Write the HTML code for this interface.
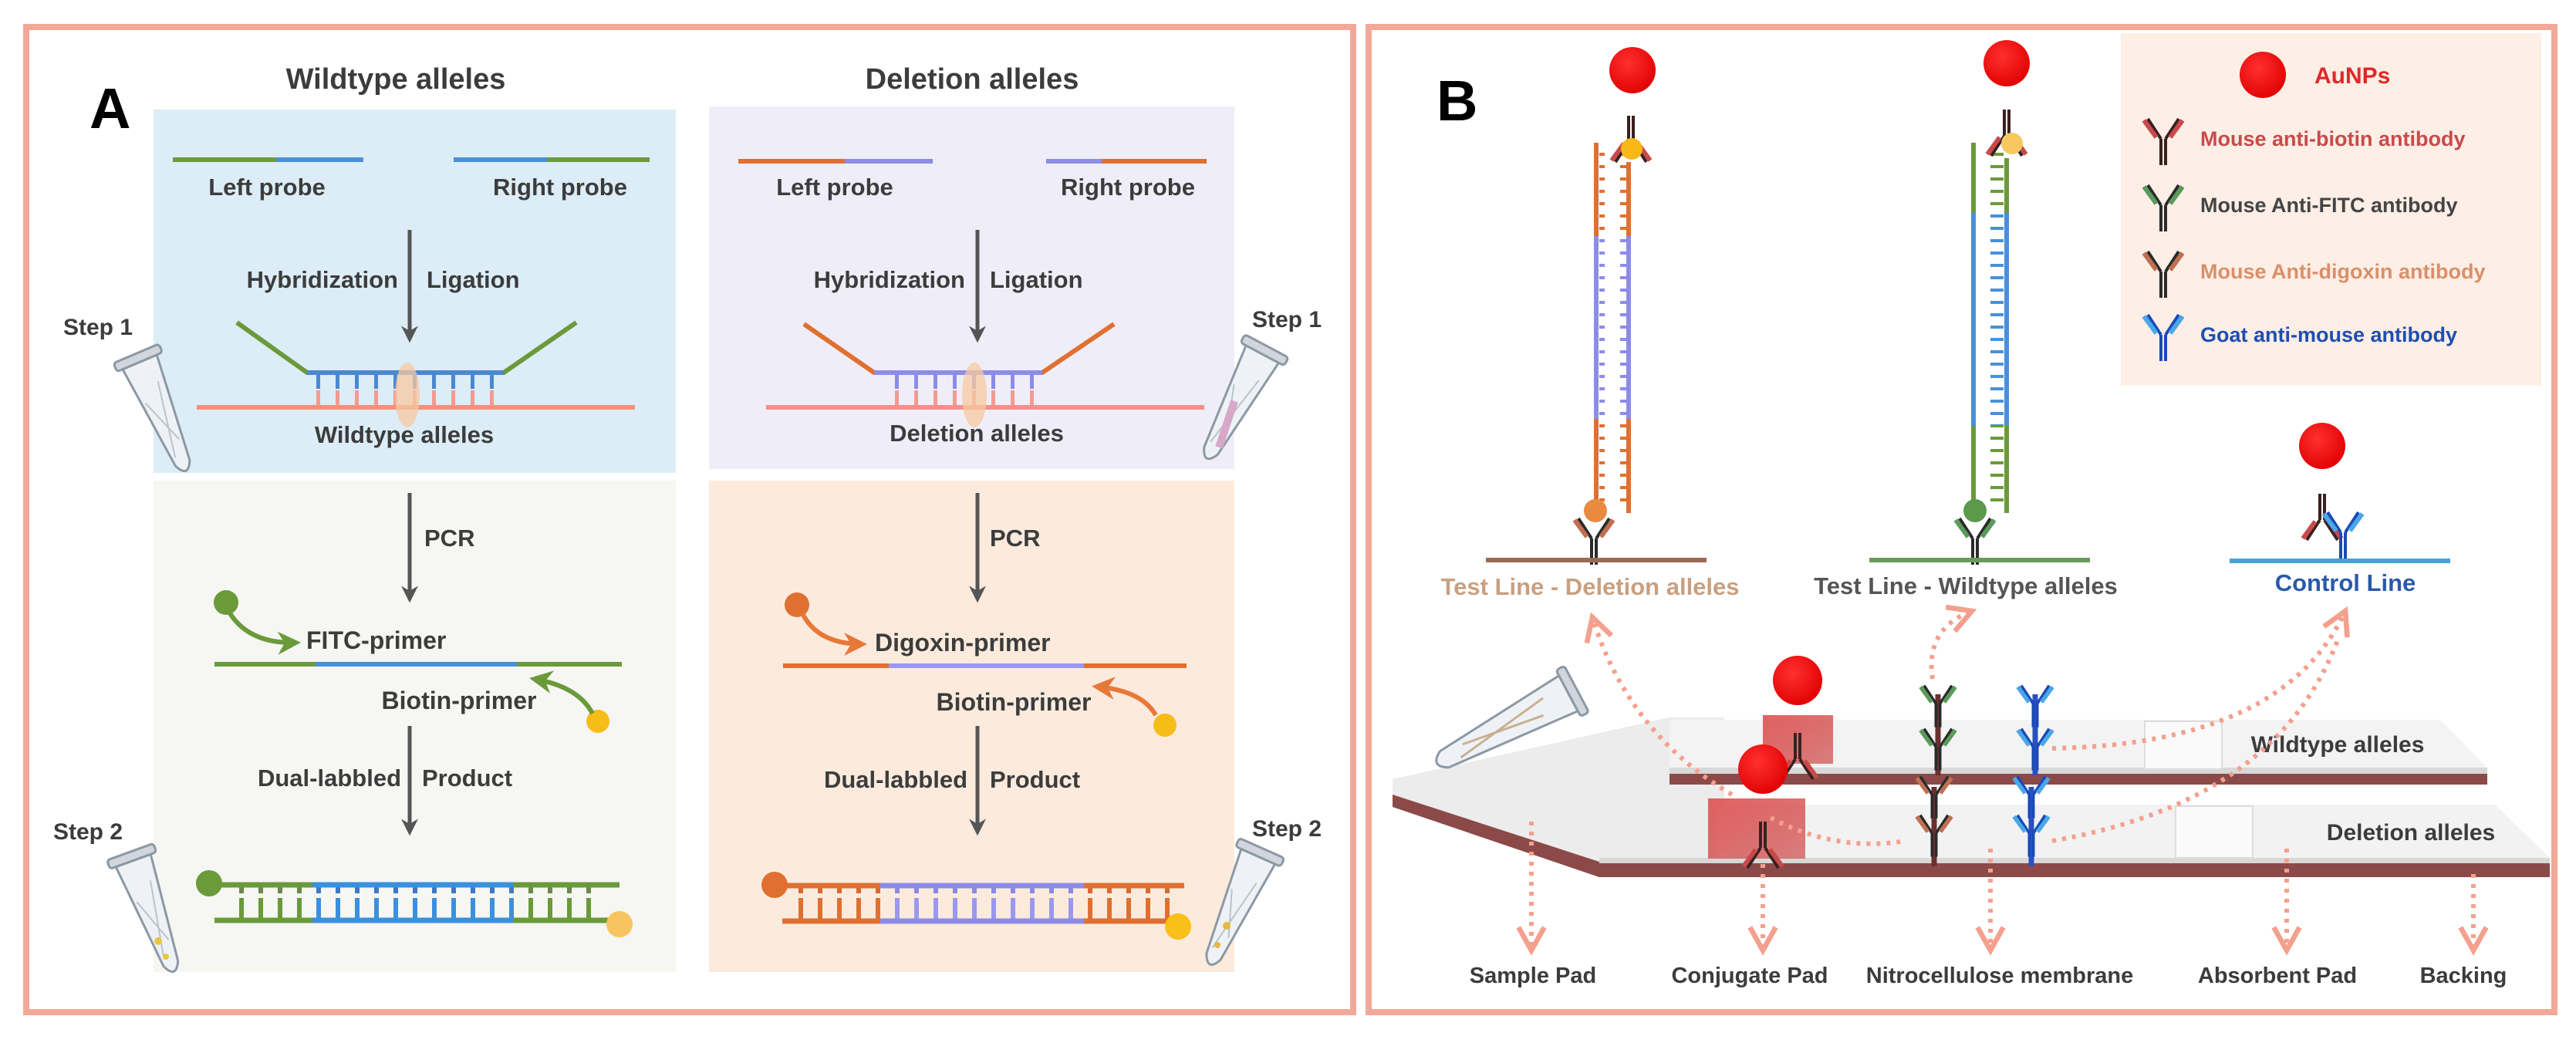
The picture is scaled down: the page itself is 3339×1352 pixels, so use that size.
<!DOCTYPE html>
<html><head><meta charset="utf-8"><style>
html,body{margin:0;padding:0;background:#fff}
svg{display:block}
text{font-family:"Liberation Sans",Arial,sans-serif;font-weight:bold;fill:#3c3c3c}
</style></head><body>
<svg width="3339" height="1352" viewBox="0 0 3339 1352" xmlns="http://www.w3.org/2000/svg">
<defs>
<marker id="ah" viewBox="0 0 10 10" refX="8" refY="5" markerWidth="22" markerHeight="22" markerUnits="userSpaceOnUse" orient="auto"><path d="M0,0 L10,5 L0,10 L3,5 Z" fill="#555"/></marker>
<marker id="sh" viewBox="0 0 12 12" refX="10" refY="6" markerWidth="40" markerHeight="40" markerUnits="userSpaceOnUse" orient="auto"><path d="M1,1 L10,6 L1,11" fill="none" stroke="#f4a08e" stroke-width="2"/></marker>
<marker id="go" viewBox="0 0 10 10" refX="8" refY="5" markerWidth="30" markerHeight="30" markerUnits="userSpaceOnUse" orient="auto"><path d="M0,0 L10,5 L0,10 L3,5 Z" fill="#6a9a3a"/></marker>
<marker id="oo" viewBox="0 0 10 10" refX="8" refY="5" markerWidth="30" markerHeight="30" markerUnits="userSpaceOnUse" orient="auto"><path d="M0,0 L10,5 L0,10 L3,5 Z" fill="#e87838"/></marker>
<pattern id="rG" width="25" height="60" patternUnits="userSpaceOnUse"><rect x="10" y="0" width="6" height="18" fill="#6a8a4a"/><rect x="10" y="24" width="6" height="36" fill="#6a9a3a"/></pattern>
<pattern id="rB" width="25" height="60" patternUnits="userSpaceOnUse"><rect x="10" y="0" width="6" height="18" fill="#3a7ac8"/><rect x="10" y="24" width="6" height="36" fill="#3a90e0"/></pattern>
<pattern id="rO" width="25" height="60" patternUnits="userSpaceOnUse"><rect x="10" y="0" width="6" height="18" fill="#d86a30"/><rect x="10" y="24" width="6" height="36" fill="#e07030"/></pattern>
<pattern id="rL" width="25" height="60" patternUnits="userSpaceOnUse"><rect x="10" y="0" width="6" height="18" fill="#8a88e8"/><rect x="10" y="24" width="6" height="36" fill="#9a98f0"/></pattern>
<pattern id="hB" width="25" height="44" patternUnits="userSpaceOnUse"><rect x="10" y="0" width="5" height="20" fill="#4a88d0"/><rect x="10" y="22" width="5" height="22" fill="#f49a90"/></pattern>
<pattern id="hL" width="25" height="44" patternUnits="userSpaceOnUse"><rect x="10" y="0" width="5" height="20" fill="#8c8ce8"/><rect x="10" y="22" width="5" height="22" fill="#f49a90"/></pattern>
<pattern id="vO" width="60" height="16" patternUnits="userSpaceOnUse"><rect x="0" y="6" width="17" height="4" fill="#e07030"/><rect x="23" y="6" width="17" height="4" fill="#e07030"/></pattern>
<pattern id="vL" width="60" height="16" patternUnits="userSpaceOnUse"><rect x="0" y="6" width="17" height="4" fill="#8c8ce8"/><rect x="23" y="6" width="17" height="4" fill="#8c8ce8"/></pattern>
<pattern id="vG" width="60" height="16" patternUnits="userSpaceOnUse"><rect x="0" y="6" width="17" height="4" fill="#6a9a3a"/><rect x="23" y="6" width="17" height="4" fill="#6a9a3a"/></pattern>
<pattern id="vB" width="60" height="16" patternUnits="userSpaceOnUse"><rect x="0" y="6" width="17" height="4" fill="#4a90d8"/><rect x="23" y="6" width="17" height="4" fill="#4a90d8"/></pattern>
<linearGradient id="red" x1="0" y1="0" x2="1" y2="1"><stop offset="0" stop-color="#e05050" stop-opacity=".9"/><stop offset="1" stop-color="#c83030" stop-opacity=".6"/></linearGradient>
<radialGradient id="au" cx=".4" cy=".35" r=".7"><stop offset="0" stop-color="#ff3030"/><stop offset="1" stop-color="#e00000"/></radialGradient>
<g id="abR"><path d="M-3,0 V34 M3,0 V34 M-3,0 L-20,-26 M3,0 L20,-26" stroke="#3a2020" stroke-width="4" fill="none"/><path d="M-9,-2 L-25,-24 M9,-2 L25,-24" stroke="#c84a4a" stroke-width="6" fill="none"/></g>
<g id="abG"><path d="M-3,0 V34 M3,0 V34 M-3,0 L-20,-26 M3,0 L20,-26" stroke="#2a2a2a" stroke-width="4" fill="none"/><path d="M-9,-2 L-25,-24 M9,-2 L25,-24" stroke="#5a9a5a" stroke-width="6" fill="none"/></g>
<g id="abD"><path d="M-3,0 V34 M3,0 V34 M-3,0 L-20,-26 M3,0 L20,-26" stroke="#2a2a2a" stroke-width="4" fill="none"/><path d="M-9,-2 L-25,-24 M9,-2 L25,-24" stroke="#c07050" stroke-width="6" fill="none"/></g>
<g id="abB"><path d="M-3,0 V34 M3,0 V34 M-3,0 L-20,-26 M3,0 L20,-26" stroke="#1a4ab8" stroke-width="4" fill="none"/><path d="M-9,-2 L-25,-24 M9,-2 L25,-24" stroke="#4aa8e8" stroke-width="6" fill="none"/></g>
<g id="tube"><path d="M-24,8 L24,8 L10,150 Q0,172 -10,150 Z" fill="#eef2f6" stroke="#8c98a4" stroke-width="3"/><rect x="-32" y="-4" width="64" height="12" rx="4" fill="#d0d6dc" stroke="#8c98a4" stroke-width="3"/><path d="M-14,60 L8,120 M12,40 L-6,140" stroke="#b8c4cc" stroke-width="2"/></g>
</defs>

<!-- PANEL A -->
<rect x="34" y="35" width="1720" height="1277" fill="#fff" stroke="#f2a898" stroke-width="8"/>
<text x="116" y="166" style="font-size:74px;fill:#000">A</text>
<text x="513" y="115" text-anchor="middle" style="font-size:38px">Wildtype alleles</text>
<text x="1260" y="115" text-anchor="middle" style="font-size:38px">Deletion alleles</text>
<rect x="199" y="142" width="677" height="471" fill="#dcedf7"/>
<rect x="919" y="138" width="681" height="470" fill="#efeef8"/>
<rect x="199" y="623" width="677" height="637" fill="#f6f6f3"/>
<rect x="919" y="623" width="681" height="637" fill="#fcebdd"/>

<!-- left top -->
<path d="M224,207 H358" stroke="#6a9a3a" stroke-width="6"/><path d="M358,207 H471" stroke="#4a90d8" stroke-width="6"/>
<path d="M588,207 H709" stroke="#4a90d8" stroke-width="6"/><path d="M709,207 H842" stroke="#6a9a3a" stroke-width="6"/>
<text x="346" y="253" text-anchor="middle" style="font-size:31px">Left probe</text>
<text x="726" y="253" text-anchor="middle" style="font-size:31px">Right probe</text>
<line x1="531" y1="298" x2="531" y2="440" stroke="#555" stroke-width="5" marker-end="url(#ah)"/>
<text x="516" y="373" text-anchor="end" style="font-size:31px">Hybridization</text>
<text x="553" y="373" style="font-size:31px">Ligation</text>
<rect x="405" y="483" width="250" height="44" fill="url(#hB)"/>
<path d="M307,418 L398,483 H653 L747,418" fill="none" stroke="#6a9a3a" stroke-width="6"/>
<path d="M398,483 H653" stroke="#4a88d0" stroke-width="6"/>
<line x1="255" y1="528" x2="823" y2="528" stroke="#f4907a" stroke-width="6"/>
<ellipse cx="528" cy="512" rx="16" ry="42" fill="#f8c8a0" opacity=".75"/>
<text x="524" y="574" text-anchor="middle" style="font-size:31px">Wildtype alleles</text>
<text x="127" y="434" text-anchor="middle" style="font-size:30px">Step 1</text>
<use href="#tube" transform="translate(178,462) rotate(-23)"/>

<!-- left bottom -->
<line x1="531" y1="639" x2="531" y2="777" stroke="#555" stroke-width="5" marker-end="url(#ah)"/>
<text x="550" y="708" style="font-size:31px">PCR</text>
<circle cx="293" cy="781" r="16" fill="#6a9a3a"/>
<path d="M295,790 Q320,835 384,833" fill="none" stroke="#6a9a3a" stroke-width="6" marker-end="url(#go)"/>
<text x="397" y="841" style="font-size:32px">FITC-primer</text>
<path d="M278,861 H409" stroke="#6a9a3a" stroke-width="6"/><path d="M409,861 H670" stroke="#4a90d8" stroke-width="6"/><path d="M670,861 H806" stroke="#6a9a3a" stroke-width="6"/>
<text x="595" y="919" text-anchor="middle" style="font-size:32px">Biotin-primer</text>
<circle cx="775" cy="935" r="15" fill="#f8bc18"/>
<path d="M768,925 Q750,890 692,880" fill="none" stroke="#6a9a3a" stroke-width="6" marker-end="url(#go)"/>
<line x1="531" y1="941" x2="531" y2="1079" stroke="#555" stroke-width="5" marker-end="url(#ah)"/>
<text x="520" y="1019" text-anchor="end" style="font-size:31px">Dual-labbled</text>
<text x="547" y="1019" style="font-size:31px">Product</text>
<rect x="293" y="1147" width="112" height="46" fill="url(#rG)"/><rect x="405" y="1147" width="260" height="46" fill="url(#rB)"/><rect x="665" y="1147" width="115" height="46" fill="url(#rG)"/>
<path d="M286,1147 H405" stroke="#6a9a3a" stroke-width="7"/><path d="M405,1147 H665" stroke="#3a90e0" stroke-width="7"/><path d="M665,1147 H803" stroke="#6a9a3a" stroke-width="7"/>
<path d="M278,1193 H405" stroke="#6a9a3a" stroke-width="7"/><path d="M405,1193 H665" stroke="#3a90e0" stroke-width="7"/><path d="M665,1193 H788" stroke="#6a9a3a" stroke-width="7"/>
<circle cx="271" cy="1145" r="17" fill="#6a9a3a"/><circle cx="803" cy="1198" r="17" fill="#f8c460"/>
<text x="114" y="1088" text-anchor="middle" style="font-size:30px">Step 2</text>
<use href="#tube" transform="translate(170,1108) rotate(-20)"/>
<circle cx="205" cy="1220" r="5" fill="#e8c840"/><circle cx="215" cy="1240" r="4" fill="#e8c840"/>

<!-- right top -->
<path d="M957,209 H1095" stroke="#e07030" stroke-width="6"/><path d="M1095,209 H1209" stroke="#8c8ce8" stroke-width="6"/>
<path d="M1356,209 H1428" stroke="#8c8ce8" stroke-width="6"/><path d="M1428,209 H1564" stroke="#e07030" stroke-width="6"/>
<text x="1082" y="253" text-anchor="middle" style="font-size:31px">Left probe</text>
<text x="1462" y="253" text-anchor="middle" style="font-size:31px">Right probe</text>
<line x1="1267" y1="298" x2="1267" y2="440" stroke="#555" stroke-width="5" marker-end="url(#ah)"/>
<text x="1251" y="373" text-anchor="end" style="font-size:31px">Hybridization</text>
<text x="1283" y="373" style="font-size:31px">Ligation</text>
<rect x="1140" y="483" width="212" height="44" fill="url(#hL)"/>
<path d="M1042,420 L1133,483 H1351 L1444,420" fill="none" stroke="#e07030" stroke-width="6"/>
<path d="M1133,483 H1351" stroke="#8c8ce8" stroke-width="6"/>
<line x1="993" y1="528" x2="1561" y2="528" stroke="#f4908a" stroke-width="6"/>
<ellipse cx="1263" cy="512" rx="16" ry="42" fill="#f8c8a0" opacity=".75"/>
<text x="1266" y="572" text-anchor="middle" style="font-size:31px">Deletion alleles</text>
<text x="1668" y="424" text-anchor="middle" style="font-size:30px">Step 1</text>
<use href="#tube" transform="translate(1640,452) rotate(28)"/>
<path d="M1600,520 L1580,580" stroke="#d8a8c8" stroke-width="10"/>

<!-- right bottom -->
<line x1="1267" y1="639" x2="1267" y2="777" stroke="#555" stroke-width="5" marker-end="url(#ah)"/>
<text x="1283" y="708" style="font-size:31px">PCR</text>
<circle cx="1033" cy="784" r="16" fill="#e07030"/>
<path d="M1040,795 Q1060,835 1118,835" fill="none" stroke="#e87838" stroke-width="6" marker-end="url(#oo)"/>
<text x="1134" y="844" style="font-size:32px">Digoxin-primer</text>
<path d="M1015,863 H1152" stroke="#e07030" stroke-width="6"/><path d="M1152,863 H1405" stroke="#9a98f0" stroke-width="6"/><path d="M1405,863 H1538" stroke="#e07030" stroke-width="6"/>
<text x="1314" y="921" text-anchor="middle" style="font-size:32px">Biotin-primer</text>
<circle cx="1510" cy="940" r="15" fill="#f8bc18"/>
<path d="M1498,927 Q1480,895 1421,890" fill="none" stroke="#e87838" stroke-width="6" marker-end="url(#oo)"/>
<line x1="1267" y1="941" x2="1267" y2="1079" stroke="#555" stroke-width="5" marker-end="url(#ah)"/>
<text x="1254" y="1021" text-anchor="end" style="font-size:31px">Dual-labbled</text>
<text x="1283" y="1021" style="font-size:31px">Product</text>
<rect x="1028" y="1148" width="113" height="46" fill="url(#rO)"/><rect x="1141" y="1148" width="264" height="46" fill="url(#rL)"/><rect x="1405" y="1148" width="115" height="46" fill="url(#rO)"/>
<path d="M1020,1148 H1141" stroke="#e07030" stroke-width="7"/><path d="M1141,1148 H1405" stroke="#8c8ce8" stroke-width="7"/><path d="M1405,1148 H1535" stroke="#e07030" stroke-width="7"/>
<path d="M1014,1194 H1141" stroke="#e07030" stroke-width="7"/><path d="M1141,1194 H1405" stroke="#8c8ce8" stroke-width="7"/><path d="M1405,1194 H1520" stroke="#e07030" stroke-width="7"/>
<circle cx="1004" cy="1147" r="17" fill="#e07030"/><circle cx="1527" cy="1201" r="17" fill="#f8c018"/>
<text x="1668" y="1084" text-anchor="middle" style="font-size:30px">Step 2</text>
<use href="#tube" transform="translate(1634,1103) rotate(24)"/>
<circle cx="1590" cy="1200" r="5" fill="#e8b840"/><circle cx="1578" cy="1225" r="4" fill="#e8b840"/>

<!-- PANEL B -->
<rect x="1774" y="35" width="1537" height="1277" fill="#fff" stroke="#f2a898" stroke-width="8"/>
<text x="1862" y="156" style="font-size:74px;fill:#000">B</text>
<rect x="2749" y="43" width="545" height="457" fill="#fdeee6"/>
<circle cx="2933" cy="97" r="30" fill="url(#au)"/>
<text x="3000" y="108" style="font-size:30px;fill:#e0282a">AuNPs</text>
<use href="#abR" transform="translate(2804,180)"/>
<text x="2852" y="189" style="font-size:27px;fill:#c84a4a">Mouse anti-biotin antibody</text>
<use href="#abG" transform="translate(2804,266)"/>
<text x="2852" y="275" style="font-size:27px;fill:#444">Mouse Anti-FITC antibody</text>
<use href="#abD" transform="translate(2804,352)"/>
<text x="2852" y="361" style="font-size:27px;fill:#d8906a">Mouse Anti-digoxin antibody</text>
<use href="#abB" transform="translate(2804,434)"/>
<text x="2852" y="443" style="font-size:27px;fill:#1e4eb0">Goat anti-mouse antibody</text>

<!-- col1 -->
<rect x="2073" y="190" width="36" height="116" fill="url(#vO)"/><rect x="2073" y="306" width="36" height="237" fill="url(#vL)"/><rect x="2073" y="543" width="36" height="112" fill="url(#vO)"/>
<path d="M2069,185 V306" stroke="#e07030" stroke-width="6"/><path d="M2069,306 V543" stroke="#8c8ce8" stroke-width="6"/><path d="M2069,543 V655" stroke="#e07030" stroke-width="6"/>
<path d="M2111,210 V306" stroke="#e07030" stroke-width="6"/><path d="M2111,306 V543" stroke="#8c8ce8" stroke-width="6"/><path d="M2111,543 V665" stroke="#e07030" stroke-width="6"/>
<circle cx="2116" cy="91" r="30" fill="url(#au)"/>
<use href="#abR" transform="translate(2114,150) rotate(180) translate(0,-34)"/>
<circle cx="2115" cy="193" r="14" fill="#f8b818"/>
<circle cx="2068" cy="662" r="15" fill="#e88a40"/>
<use href="#abD" transform="translate(2066,698)"/>
<line x1="1926" y1="726" x2="2212" y2="726" stroke="#9a6a55" stroke-width="6"/>
<text x="2061" y="771" text-anchor="middle" style="font-size:31px;fill:#c8a080">Test Line - Deletion alleles</text>

<!-- col2 -->
<rect x="2562" y="190" width="36" height="86" fill="url(#vG)"/><rect x="2562" y="276" width="36" height="276" fill="url(#vB)"/><rect x="2562" y="552" width="36" height="103" fill="url(#vG)"/>
<path d="M2558,185 V276" stroke="#6a9a3a" stroke-width="6"/><path d="M2558,276 V552" stroke="#4a90d8" stroke-width="6"/><path d="M2558,552 V655" stroke="#6a9a3a" stroke-width="6"/>
<path d="M2601,205 V276" stroke="#6a9a3a" stroke-width="6"/><path d="M2601,276 V552" stroke="#4a90d8" stroke-width="6"/><path d="M2601,552 V665" stroke="#6a9a3a" stroke-width="6"/>
<circle cx="2601" cy="82" r="30" fill="url(#au)"/>
<use href="#abR" transform="translate(2601,142) rotate(180) translate(0,-34)"/>
<circle cx="2608" cy="186" r="14" fill="#f8c860"/>
<circle cx="2560" cy="662" r="15" fill="#5a9a4a"/>
<use href="#abG" transform="translate(2560,698)"/>
<line x1="2423" y1="726" x2="2709" y2="726" stroke="#6a9a5a" stroke-width="6"/>
<text x="2548" y="770" text-anchor="middle" style="font-size:31px;fill:#555">Test Line - Wildtype alleles</text>

<!-- control -->
<circle cx="3010" cy="578" r="30" fill="url(#au)"/>
<use href="#abR" transform="translate(3010,640) rotate(180) translate(0,-34)"/>
<use href="#abB" transform="translate(3037,690)"/>
<line x1="2890" y1="727" x2="3176" y2="727" stroke="#4aa0d8" stroke-width="6"/>
<text x="3040" y="766" text-anchor="middle" style="font-size:31px;fill:#2a5aa8">Control Line</text>

<!-- strips -->
<polygon points="1805,1010 2164,930 2235,930 2235,1117 2073,1117 1805,1030" fill="#ececec"/>
<polygon points="1805,1030 2073,1117 3305,1117 3305,1137 2073,1137 1805,1046" fill="#8b4a48"/>
<polygon points="2164,933 3163,933 3224,995 2164,995" fill="#f3f3f3"/>
<rect x="2164" y="995" width="1060" height="8" fill="#d8d8d8"/>
<rect x="2164" y="1003" width="1060" height="14" fill="#8b4a48"/>
<rect x="2780" y="935" width="100" height="62" fill="#fafafa" stroke="#ddd" stroke-width="2"/>
<polygon points="2224,1043 3234,1043 3305,1112 2224,1112" fill="#f2f2f2"/>
<rect x="2073" y="1112" width="1232" height="7" fill="#d8d8d8"/>
<rect x="2820" y="1045" width="100" height="67" fill="#fafafa" stroke="#ddd" stroke-width="2"/>
<rect x="2285" y="927" width="91" height="63" fill="url(#red)"/>
<rect x="2214" y="1035" width="126" height="78" fill="url(#red)"/>
<circle cx="2330" cy="882" r="32" fill="url(#au)"/>
<use href="#abR" transform="translate(2330,950) rotate(180) translate(0,-34)"/>
<circle cx="2285" cy="997" r="32" fill="url(#au)"/>
<use href="#abR" transform="translate(2285,1065) rotate(180) translate(0,-34)"/>
<!-- strip antibodies -->
<path d="M2512,900 V1005 M2507,1020 V1123" stroke="#6a3030" stroke-width="7"/>
<path d="M2638,900 V1005 M2633,1020 V1123" stroke="#2a50c0" stroke-width="7"/>
<use href="#abG" transform="translate(2512,912) scale(.9)"/><use href="#abG" transform="translate(2512,968) scale(.9)"/>
<use href="#abD" transform="translate(2507,1030) scale(.9)"/><use href="#abD" transform="translate(2507,1080) scale(.9)"/>
<use href="#abB" transform="translate(2638,912) scale(.9)"/><use href="#abB" transform="translate(2638,968) scale(.9)"/>
<use href="#abB" transform="translate(2633,1030) scale(.9)"/><use href="#abB" transform="translate(2633,1080) scale(.9)"/>
<text x="3030" y="975" text-anchor="middle" style="font-size:30px">Wildtype alleles</text>
<text x="3125" y="1089" text-anchor="middle" style="font-size:30px">Deletion alleles</text>
<!-- tube B -->
<g transform="translate(2040,895) rotate(62)"><path d="M-26,8 L26,8 L12,190 Q0,212 -12,190 Z" fill="#eef2f6" stroke="#8c98a4" stroke-width="3"/><rect x="-34" y="-4" width="68" height="12" rx="4" fill="#d0d6dc" stroke="#8c98a4" stroke-width="3"/><path d="M-10,40 L8,170 M10,50 L-6,160" stroke="#c8b090" stroke-width="3"/></g>

<!-- dotted arrows -->
<g fill="none" stroke="#f4a08e" stroke-width="6" stroke-dasharray="5 8">
<path d="M2245,1030 Q2110,950 2064,800" marker-end="url(#sh)"/>
<path d="M2505,880 Q2495,815 2556,792" marker-end="url(#sh)"/>
<path d="M2660,970 Q2960,965 3040,792" marker-end="url(#sh)"/>
<path d="M2660,1090 Q2950,1040 3030,830"/>
<path d="M2295,1060 Q2380,1105 2470,1090"/>
<path d="M1985,1065 V1232" marker-end="url(#sh)"/>
<path d="M2285,1120 V1232" marker-end="url(#sh)"/>
<path d="M2580,1100 V1232" marker-end="url(#sh)"/>
<path d="M2964,1100 V1232" marker-end="url(#sh)"/>
<path d="M3206,1133 V1232" marker-end="url(#sh)"/>
</g>
<g style="font-size:29px" text-anchor="middle">
<text x="1987" y="1274">Sample Pad</text>
<text x="2268" y="1274">Conjugate Pad</text>
<text x="2592" y="1274">Nitrocellulose membrane</text>
<text x="2952" y="1274">Absorbent Pad</text>
<text x="3193" y="1274">Backing</text>
</g>
</svg>
</body></html>
